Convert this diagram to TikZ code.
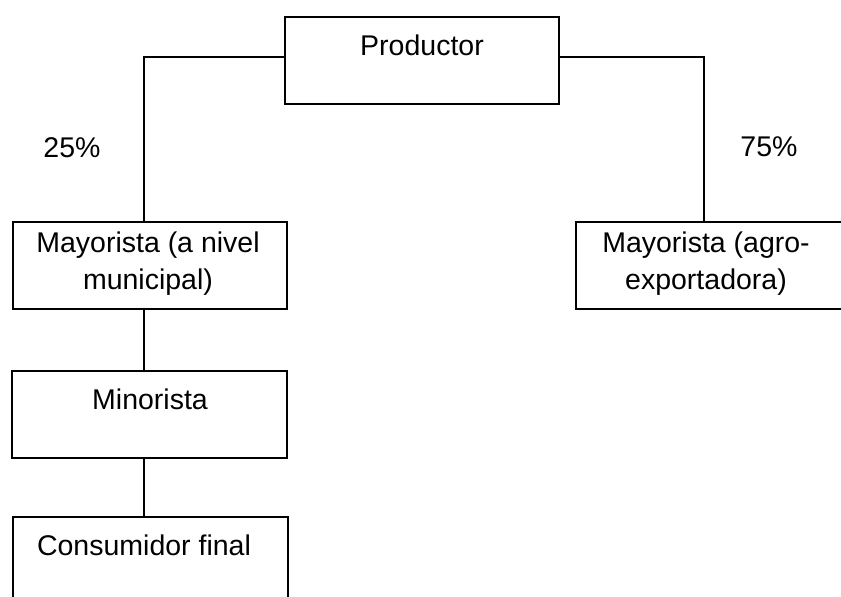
\documentclass[tikz,border=0pt]{standalone}
\usepackage{fontspec}
\setmainfont{Liberation Sans}
\begin{document}
\begin{tikzpicture}[x=1pt,y=-1pt,
  box/.style={draw,line width=1.8pt,rectangle,inner sep=0pt},
  lbl/.style={inner sep=0pt,font=\fontsize{28.5}{37}\selectfont,align=center},
  conn/.style={line width=1.8pt}]
\useasboundingbox (0,0) rectangle (841,597);
\node[box,minimum width=274pt,minimum height=87pt] (prod) at (422,60.5) {};
\node[box,minimum width=274pt,minimum height=87pt] (may1) at (150,265.5) {};
\node[box,minimum width=272pt,minimum height=87pt] (may2) at (712,265.5) {};
\node[box,minimum width=275pt,minimum height=87pt] (mino) at (149.5,414.5) {};
\node[box,minimum width=275pt,minimum height=87pt] (cons) at (150.5,560.5) {};
\node[lbl,anchor=base] (tprod) at (422,55) {Productor};
\node[lbl,anchor=north] (tmay1) at (148,232) {Mayorista (a nivel\\municipal)};
\node[lbl,anchor=north] (tmay2) at (706,232) {Mayorista (agro-\\exportadora)};
\node[lbl,anchor=base] (tmino) at (150,409) {Minorista};
\node[lbl,anchor=base] (tcons) at (144,555) {Consumidor final};
\node[lbl,anchor=base] (p25) at (72,157) {25\%};
\node[lbl,anchor=base] (p75) at (769,156) {75\%};
\draw[conn] ([yshift=3.5pt]prod.west) -| ([xshift=-6pt]may1.north);
\draw[conn] ([yshift=3.5pt]prod.east) -| ([xshift=-8pt]may2.north);
\draw[conn] ([xshift=-6pt]may1.south) -- ([xshift=-6pt]may1.south |- mino.north);
\draw[conn] ([xshift=-5.5pt]mino.south) -- ([xshift=-5.5pt]mino.south |- cons.north);
\end{tikzpicture}
\end{document}
